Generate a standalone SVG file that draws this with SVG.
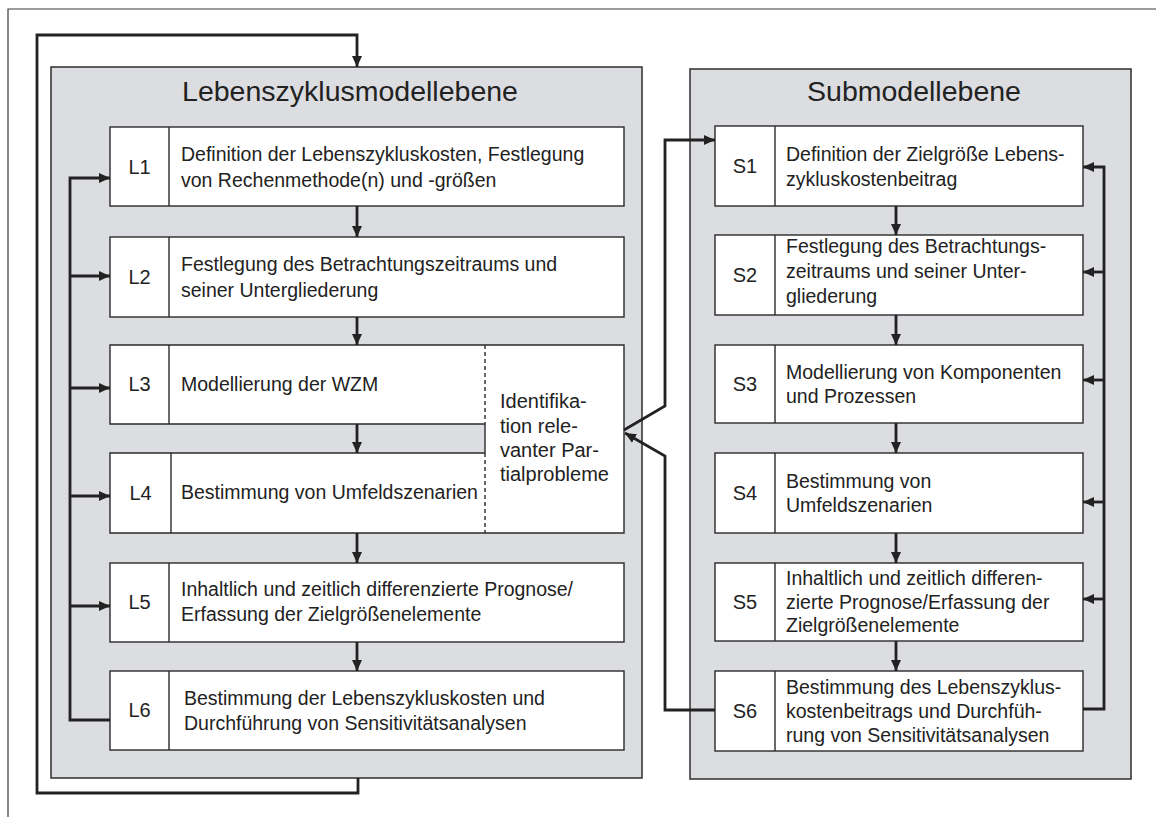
<svg xmlns="http://www.w3.org/2000/svg" width="1156" height="817" viewBox="0 0 1156 817">
<style>
.bg{fill:#ffffff}
.frame{fill:none;stroke:#3a3a3a;stroke-width:1.2}
.panel{fill:#dcdde0;stroke:#2e2e2e;stroke-width:1.5}
.box{fill:#ffffff;stroke:#2a2a2a;stroke-width:1.4}
.ln{fill:none;stroke:#2a2a2a;stroke-width:1.4}
.dash{fill:none;stroke:#2a2a2a;stroke-width:1.4;stroke-dasharray:4,3}
.con{fill:none;stroke:#222;stroke-width:2.8}
.title{font-family:"Liberation Sans",Arial,sans-serif;font-size:28.5px;fill:#222;text-anchor:middle}
.lab{font-family:"Liberation Sans",Arial,sans-serif;font-size:20px;fill:#222;text-anchor:middle}
.txt{font-family:"Liberation Sans",Arial,sans-serif;font-size:19.5px;fill:#222}
.itx{font-family:"Liberation Sans",Arial,sans-serif;font-size:20px;fill:#222}
</style>
<defs>
<marker id="ah" markerUnits="userSpaceOnUse" markerWidth="12" markerHeight="10" refX="11" refY="5" orient="auto">
<path d="M0,0 L11,5 L0,10 z" fill="#222"/>
</marker>
</defs>
<rect class="bg" x="0" y="0" width="1156" height="817"/>
<path class="frame" d="M8,817 V9 H1156"/>

<g id="panel-lebenszyklus">
<rect class="panel" x="51" y="67" width="591" height="711"/>
<text class="title" x="350" y="101">Lebenszyklusmodellebene</text>
</g>
<g id="panel-submodell">
<rect class="panel" x="690" y="69" width="441" height="710"/>
<text class="title" x="914" y="101">Submodellebene</text>
</g>

<g id="L1">
<rect class="box" x="110" y="127" width="514" height="79"/>
<line class="ln" x1="169" y1="127" x2="169" y2="206"/>
<text class="lab" x="139.5" y="173.5">L1</text>
<text class="txt" x="181" y="161">Definition der Lebenszykluskosten, Festlegung</text>
<text class="txt" x="181" y="187">von Rechenmethode(n) und -größen</text>
</g>
<g id="L2">
<rect class="box" x="110" y="237" width="514" height="80"/>
<line class="ln" x1="169" y1="237" x2="169" y2="317"/>
<text class="lab" x="139.5" y="284">L2</text>
<text class="txt" x="181" y="271">Festlegung des Betrachtungszeitraums und</text>
<text class="txt" x="181" y="297">seiner Untergliederung</text>
</g>
<g id="L3">
<path class="box" d="M485,345 H110 V424 H485"/>
<line class="ln" x1="169" y1="345" x2="169" y2="424"/>
<text class="lab" x="139.5" y="391">L3</text>
<text class="txt" x="181" y="391">Modellierung der WZM</text>
</g>
<g id="L4">
<path class="box" d="M485,453 H110 V533 H485"/>
<line class="ln" x1="171" y1="453" x2="171" y2="533"/>
<text class="lab" x="140.5" y="500">L4</text>
<text class="txt" x="181" y="499">Bestimmung von Umfeldszenarien</text>
</g>
<g id="identifikation">
<rect x="485" y="345" width="139" height="188" fill="#ffffff"/>
<path class="ln" d="M485,345 H624 V533 H485"/>
<path class="dash" d="M485,345 V424 M485,453 V533"/>
<line class="ln" x1="485" y1="424" x2="485" y2="453"/>
<text class="itx" x="500" y="408">Identifika-</text>
<text class="itx" x="500" y="433">tion rele-</text>
<text class="itx" x="500" y="457">vanter Par-</text>
<text class="itx" x="500" y="481">tialprobleme</text>
</g>
<g id="L5">
<rect class="box" x="110" y="563" width="514" height="79"/>
<line class="ln" x1="169" y1="563" x2="169" y2="642"/>
<text class="lab" x="139.5" y="609">L5</text>
<text class="txt" x="181" y="596">Inhaltlich und zeitlich differenzierte Prognose/</text>
<text class="txt" x="181" y="621">Erfassung der Zielgrößenelemente</text>
</g>
<g id="L6">
<rect class="box" x="110" y="671" width="514" height="79"/>
<line class="ln" x1="169" y1="671" x2="169" y2="750"/>
<text class="lab" x="139.5" y="717">L6</text>
<text class="txt" x="184" y="705">Bestimmung der Lebenszykluskosten und</text>
<text class="txt" x="184" y="730">Durchführung von Sensitivitätsanalysen</text>
</g>

<g id="S1">
<rect class="box" x="715" y="126" width="368" height="80"/>
<line class="ln" x1="775" y1="126" x2="775" y2="206"/>
<text class="lab" x="745" y="173">S1</text>
<text class="txt" x="786" y="161">Definition der Zielgröße Lebens-</text>
<text class="txt" x="786" y="186">zykluskostenbeitrag</text>
</g>
<g id="S2">
<rect class="box" x="715" y="235" width="368" height="80"/>
<line class="ln" x1="775" y1="235" x2="775" y2="315"/>
<text class="lab" x="745" y="282">S2</text>
<text class="txt" x="786" y="253">Festlegung des Betrachtungs-</text>
<text class="txt" x="786" y="278">zeitraums und seiner Unter-</text>
<text class="txt" x="786" y="303">gliederung</text>
</g>
<g id="S3">
<rect class="box" x="715" y="345" width="368" height="78"/>
<line class="ln" x1="775" y1="345" x2="775" y2="423"/>
<text class="lab" x="745" y="391">S3</text>
<text class="txt" x="786" y="379">Modellierung von Komponenten</text>
<text class="txt" x="786" y="403">und Prozessen</text>
</g>
<g id="S4">
<rect class="box" x="715" y="453" width="368" height="80"/>
<line class="ln" x1="775" y1="453" x2="775" y2="533"/>
<text class="lab" x="745" y="500">S4</text>
<text class="txt" x="786" y="488">Bestimmung von</text>
<text class="txt" x="786" y="512">Umfeldszenarien</text>
</g>
<g id="S5">
<rect class="box" x="715" y="563" width="368" height="78"/>
<line class="ln" x1="775" y1="563" x2="775" y2="641"/>
<text class="lab" x="745" y="609">S5</text>
<text class="txt" x="786" y="585">Inhaltlich und zeitlich differen-</text>
<text class="txt" x="786" y="609">zierte Prognose/Erfassung der</text>
<text class="txt" x="786" y="632">Zielgrößenelemente</text>
</g>
<g id="S6">
<rect class="box" x="715" y="671" width="368" height="80"/>
<line class="ln" x1="775" y1="671" x2="775" y2="751"/>
<text class="lab" x="745" y="718">S6</text>
<text class="txt" x="786" y="694">Bestimmung des Lebenszyklus-</text>
<text class="txt" x="786" y="718">kostenbeitrags und Durchfüh-</text>
<text class="txt" x="786" y="742">rung von Sensitivitätsanalysen</text>
</g>

<g id="connectors">
<path class="con" d="M358,778 V793 H37 V35 H357 V67" marker-end="url(#ah)"/>
<path class="con" d="M357,206 V237" marker-end="url(#ah)"/>
<path class="con" d="M357,317 V345" marker-end="url(#ah)"/>
<path class="con" d="M357,424 V453" marker-end="url(#ah)"/>
<path class="con" d="M357,533 V563" marker-end="url(#ah)"/>
<path class="con" d="M357,642 V671" marker-end="url(#ah)"/>
<path class="con" d="M110,720 H70 V178 H110" marker-end="url(#ah)"/>
<path class="con" d="M70,276 H110" marker-end="url(#ah)"/>
<path class="con" d="M70,388 H110" marker-end="url(#ah)"/>
<path class="con" d="M70,496 H110" marker-end="url(#ah)"/>
<path class="con" d="M70,606 H110" marker-end="url(#ah)"/>
<path class="con" d="M896,206 V235" marker-end="url(#ah)"/>
<path class="con" d="M896,315 V345" marker-end="url(#ah)"/>
<path class="con" d="M896,423 V453" marker-end="url(#ah)"/>
<path class="con" d="M896,533 V563" marker-end="url(#ah)"/>
<path class="con" d="M896,641 V671" marker-end="url(#ah)"/>
<path class="con" d="M1083,709 H1104 V167 H1083" marker-end="url(#ah)"/>
<path class="con" d="M1104,272 H1083" marker-end="url(#ah)"/>
<path class="con" d="M1104,380 H1083" marker-end="url(#ah)"/>
<path class="con" d="M1104,502 H1083" marker-end="url(#ah)"/>
<path class="con" d="M1104,599 H1083" marker-end="url(#ah)"/>
<path class="con" d="M624,430 L665,406 V140 H715" marker-end="url(#ah)"/>
<path class="con" d="M715,710 H665 V456 L625,433" marker-end="url(#ah)"/>
</g>
</svg>
